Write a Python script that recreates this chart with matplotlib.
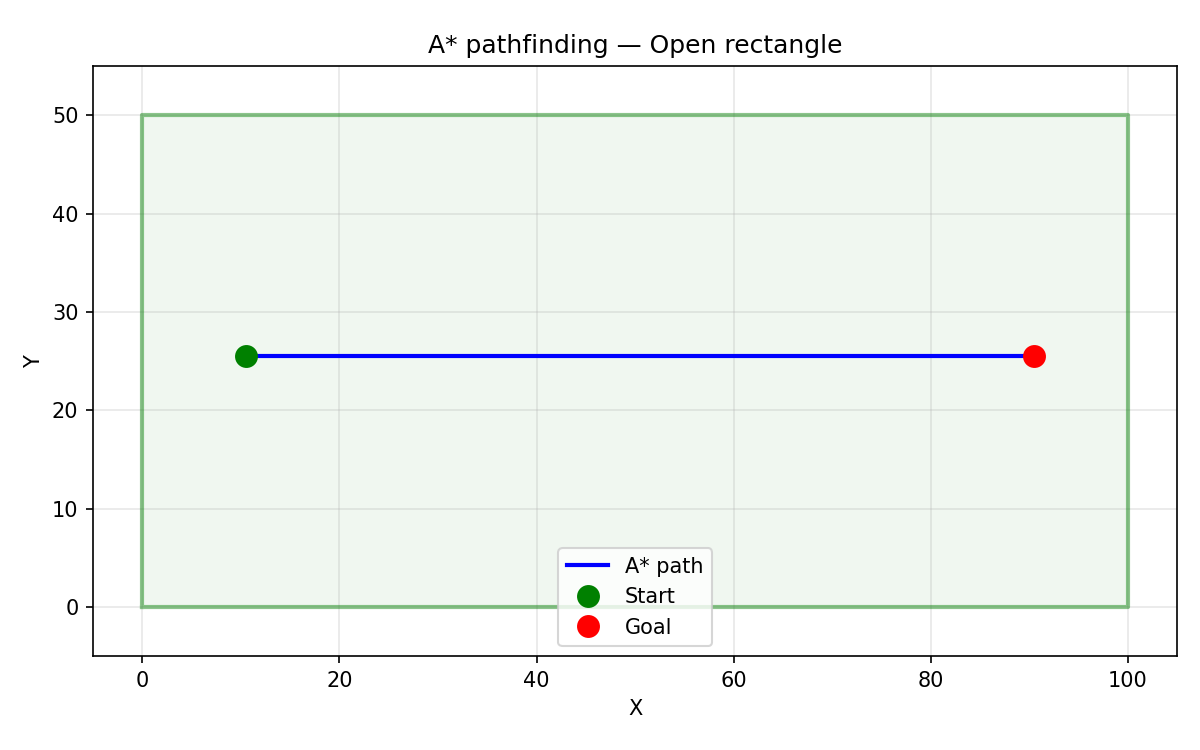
import matplotlib
matplotlib.use("Agg")
import matplotlib.pyplot as plt

rect_x = [0, 100, 100, 0, 0]
rect_y = [0, 0, 50, 50, 0]
path_x = [10.5, 90.5]
path_y = [25.5, 25.5]
start = (10.5, 25.5)
goal = (90.5, 25.5)

fig, ax = plt.subplots(figsize=(8, 5), dpi=150)
ax.fill(rect_x, rect_y, color="green", alpha=0.06, lw=0)
ax.plot(rect_x, rect_y, color="green", alpha=0.45, lw=2)
ax.plot(path_x, path_y, color="blue", lw=2, label="A* path")
ax.plot(*start, "o", color="green", ms=10, label="Start")
ax.plot(*goal, "o", color="red", ms=10, label="Goal")
ax.set_xlim(-5, 105)
ax.set_ylim(-5, 55)
ax.grid(True, alpha=0.3)
ax.set_xlabel("X")
ax.set_ylabel("Y")
ax.set_title("A* pathfinding — Open rectangle")
ax.legend(loc="lower center")
fig.subplots_adjust(left=0.0775, right=0.981, top=0.912, bottom=0.125)
fig.savefig("out.png")
